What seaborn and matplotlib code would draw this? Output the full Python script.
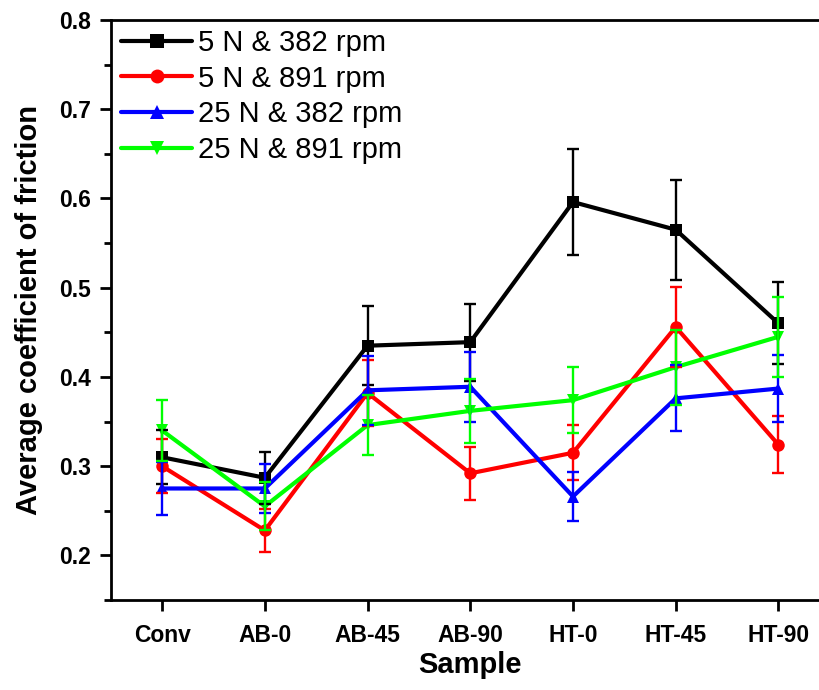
import numpy as np
import pandas as pd
import matplotlib
matplotlib.use("Agg")
import matplotlib.pyplot as plt
import seaborn as sns
from matplotlib.ticker import MultipleLocator

# ---- data ----
samples = ["Conv", "AB-0", "AB-45", "AB-90", "HT-0", "HT-45", "HT-90"]
series_names = ["5 N & 382 rpm", "5 N & 891 rpm", "25 N & 382 rpm", "25 N & 891 rpm"]

cof_5N_382 = [0.310, 0.287, 0.435, 0.439, 0.596, 0.565, 0.460]
err_5N_382 = [0.030, 0.029, 0.044, 0.043, 0.059, 0.056, 0.046]

cof_5N_891 = [0.300, 0.228, 0.382, 0.292, 0.315, 0.456, 0.324]
err_5N_891 = [0.030, 0.024, 0.037, 0.030, 0.031, 0.045, 0.032]

cof_25N_382 = [0.275, 0.275, 0.385, 0.389, 0.266, 0.376, 0.387]
err_25N_382 = [0.030, 0.027, 0.039, 0.039, 0.027, 0.037, 0.038]

cof_25N_891 = [0.340, 0.255, 0.346, 0.362, 0.374, 0.411, 0.445]
err_25N_891 = [0.034, 0.027, 0.034, 0.036, 0.037, 0.042, 0.045]

values = [cof_5N_382, cof_5N_891, cof_25N_382, cof_25N_891]
errors = [err_5N_382, err_5N_891, err_25N_382, err_25N_891]
colors = ["#000000", "#FF0000", "#0000FF", "#00FF00"]
markers = ["s", "o", "^", "v"]

# ---- style ----
sns.set_style("ticks")
plt.rcParams["font.family"] = ["Liberation Sans", "DejaVu Sans"]
plt.rcParams["text.color"] = "black"
plt.rcParams["axes.labelcolor"] = "black"
plt.rcParams["xtick.color"] = "black"
plt.rcParams["ytick.color"] = "black"

rows = []
for name, vals, errs in zip(series_names, values, errors):
    for i, (s, v, e) in enumerate(zip(samples, vals, errs)):
        rows.append({"pos": i, "Sample": s, "cof": v, "err": e, "series": name})
df = pd.DataFrame(rows)

fig = plt.figure(figsize=(8.19, 6.9), dpi=100)
ax = fig.add_axes([0.1352, 0.1304, 0.878, 0.8406])

palette = dict(zip(series_names, colors))
marker_map = dict(zip(series_names, markers))

sns.lineplot(data=df, x="pos", y="cof", hue="series", style="series",
             hue_order=series_names, style_order=series_names,
             palette=palette, markers=marker_map, dashes=False,
             linewidth=3.0, markersize=9, markeredgewidth=0,
             ax=ax, legend=True, errorbar=None)

for name, col in zip(series_names, colors):
    sub = df[df["series"] == name]
    ax.errorbar(sub["pos"], sub["cof"], yerr=sub["err"], fmt="none",
                ecolor=col, elinewidth=1.7, capsize=4.3, capthick=1.7, zorder=3)

ax.set_xlim(-0.5, 6.5)
ax.set_ylim(0.15, 0.8)
ax.set_xticks(range(len(samples)))
ax.set_xticklabels(samples, fontsize=16.5, fontweight="bold")
ax.yaxis.set_major_locator(MultipleLocator(0.1))
ax.yaxis.set_minor_locator(MultipleLocator(0.05))
ax.set_yticks([0.2, 0.3, 0.4, 0.5, 0.6, 0.7, 0.8])
ax.set_yticklabels(["0.2", "0.3", "0.4", "0.5", "0.6", "0.7", "0.8"],
                   fontsize=16.5, fontweight="bold")
ax.tick_params(axis="both", which="major", direction="out", length=8, width=2, pad=4)
ax.tick_params(axis="y", which="major", pad=6)
ax.tick_params(axis="y", which="minor", direction="out", length=5, width=2)
ax.tick_params(axis="x", which="major", pad=9)

for side in ["left", "bottom", "top", "right"]:
    ax.spines[side].set_linewidth(2)
    ax.spines[side].set_color("black")

ax.set_xlabel("Sample", fontsize=21, fontweight="bold", labelpad=3)
ax.set_ylabel("Average coefficient of friction", fontsize=21, fontweight="bold", labelpad=12)

leg = ax.legend(loc="upper left", bbox_to_anchor=(0.01, 0.99), frameon=False,
                fontsize=21, handlelength=2.45, handletextpad=0.2,
                labelspacing=0.27, borderaxespad=0.0, borderpad=0.1)
for ln in leg.get_lines():
    ln.set_linewidth(3.0)
    ln.set_markersize(10)
    ln.set_markeredgewidth(0)

fig.savefig("out.png", dpi=100)
